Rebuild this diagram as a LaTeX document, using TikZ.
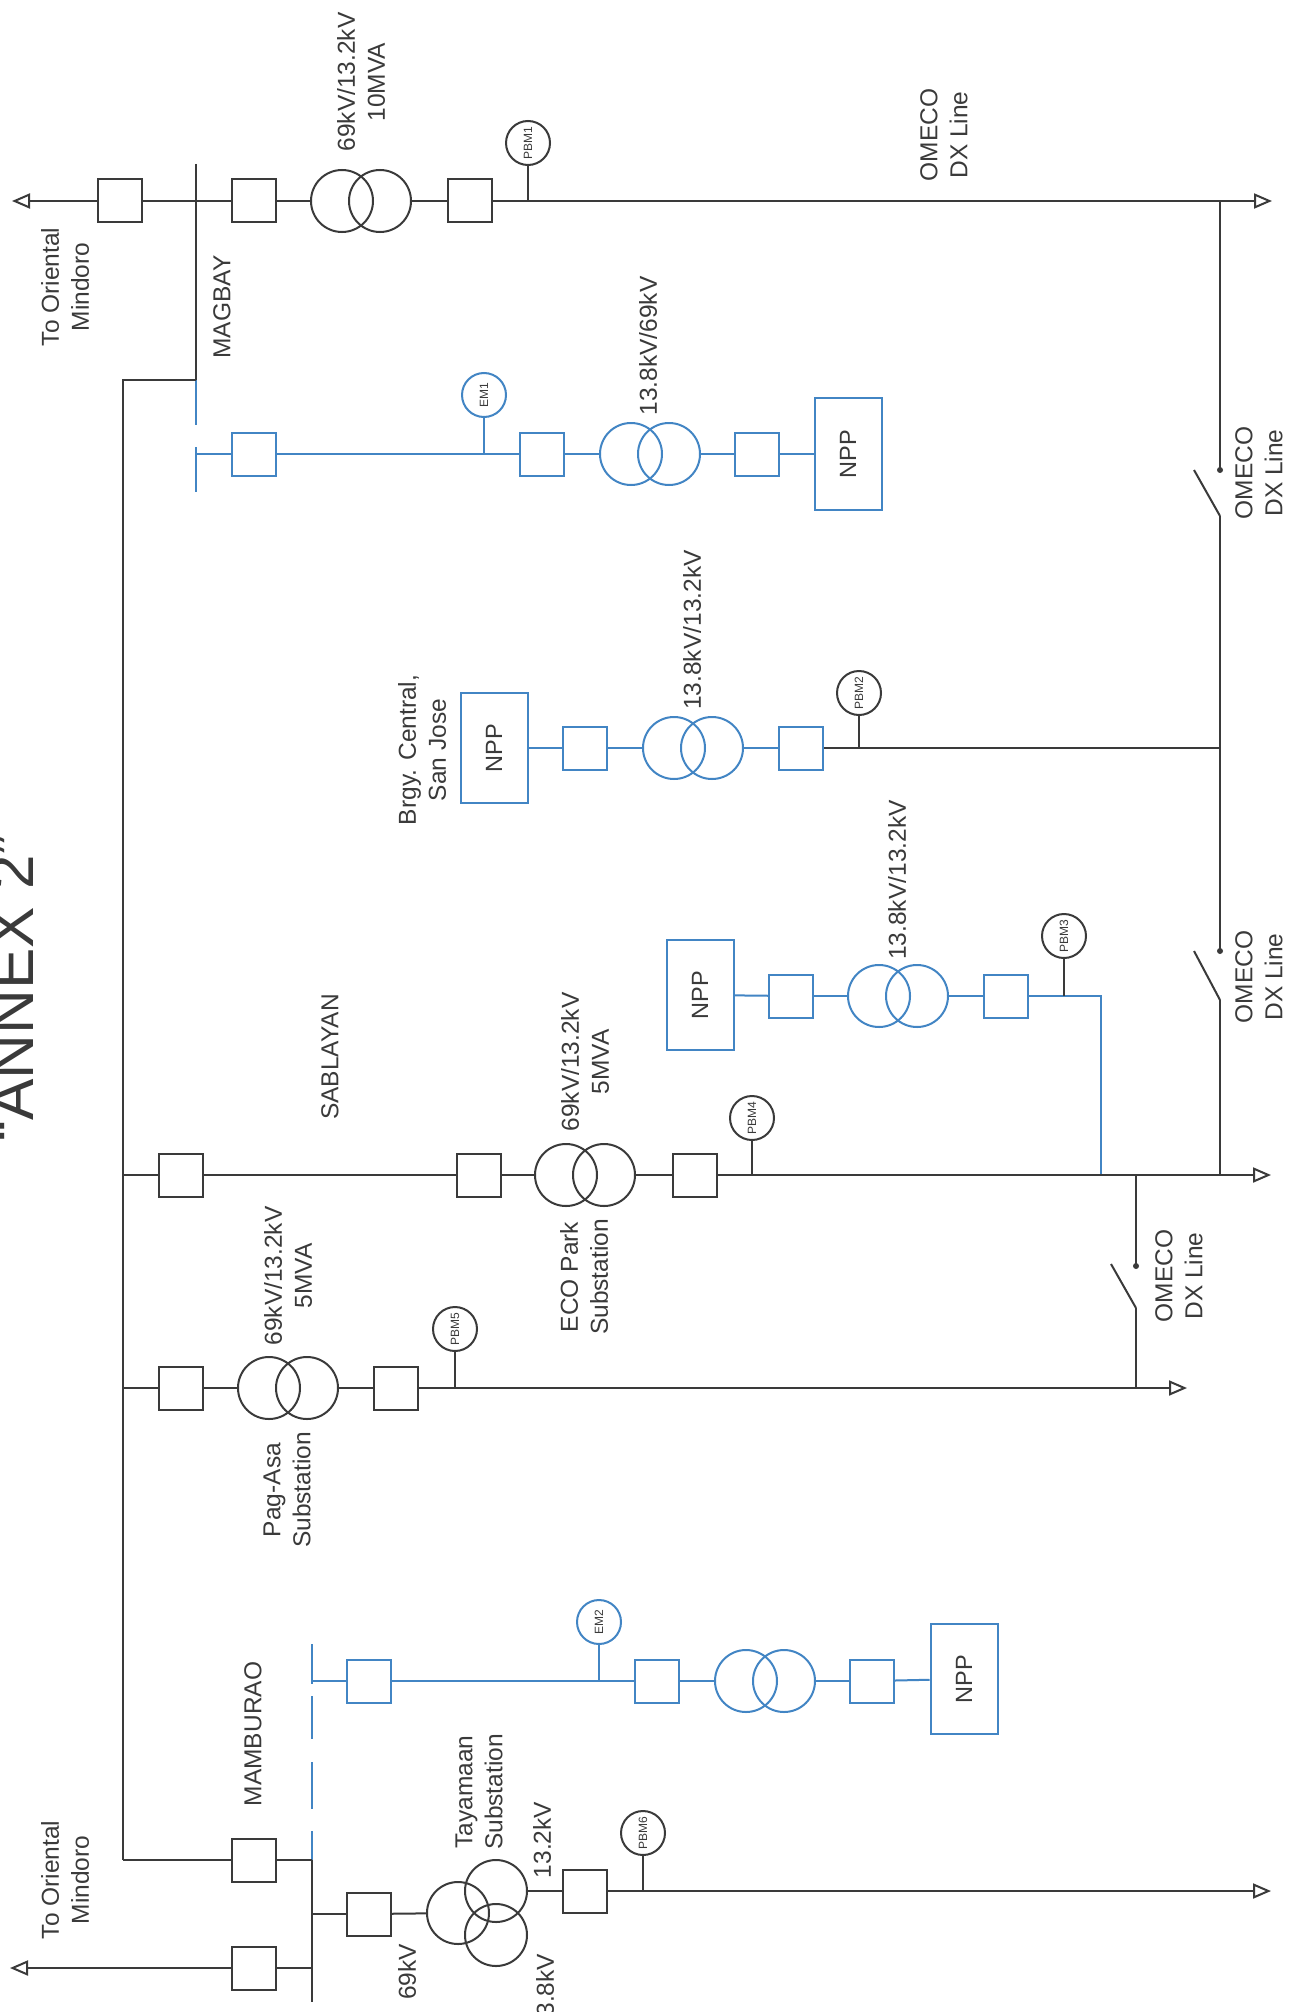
\documentclass[tikz,border=0pt]{standalone}
\usepackage{fontspec}
\setmainfont{Liberation Sans}
\usepackage{graphicx}
\usetikzlibrary{arrows.meta}
\definecolor{dk}{RGB}{58,58,58}
\definecolor{bl}{RGB}{66,133,196}
\begin{document}
\begin{tikzpicture}[x=0.5pt,y=-0.5pt,
 wire/.style={draw=dk,line width=1pt},
 bwire/.style={draw=bl,line width=1pt},
 brk/.style={rectangle,draw=dk,line width=1pt,minimum width=22pt,minimum height=21.5pt,inner sep=0pt},
 bbrk/.style={brk,draw=bl},
 xf/.style={circle,draw=dk,line width=1pt,minimum size=31pt,inner sep=0pt},
 bxf/.style={xf,draw=bl},
 meter/.style={circle,draw=dk,line width=1pt,minimum size=22pt,inner sep=0pt,text=dk,font=\fontsize{6}{7}\selectfont},
 bmeter/.style={meter,draw=bl},
 npp/.style={rectangle,draw=bl,line width=1pt,minimum width=33.5pt,minimum height=55pt,inner sep=0pt,text=dk,font=\fontsize{11.75}{14}\selectfont},
 lbl/.style={rotate=90,align=center,inner sep=0pt,text=dk,font=\fontsize{12.25}{15}\selectfont},
 arr/.style={-{Triangle[open,length=9pt,width=7.5pt]}},
 cdot/.style={circle,fill=dk,inner sep=0pt,minimum size=3pt},
]
\fill[white] (0,0) rectangle (1294,2012);
\useasboundingbox (0,0) rectangle (1294,2012);
\clip (0,0) rectangle (1294,2012);

% ---------- title
\node[lbl,font=\fontsize{31}{36}\selectfont,anchor=base] (title) at (33,988) {“ANNEX 2”};

% ---------- top line (MAGBAY 69kV)
\coordinate (a0) at (12,201);
\node[brk] (b1) at (120,201) {};
\coordinate (m1) at (196,201);
\node[brk] (b2) at (254,201) {};
\node[xf] (t1a) at (342,201) {};
\node[xf] (t1b) at (380,201) {};
\node[brk] (b3) at (470,201) {};
\coordinate (p1) at (528,201);
\node[meter] (pbm1) at (528,143) {\rotatebox{90}{PBM1}};
\coordinate (j1) at (1220,201);
\coordinate (a1) at (1272,201);
\draw[wire,arr] (b1) -- (a0);
\draw[wire] (b1) -- (m1) -- (b2);
\draw[wire] (b2) -- (t1a);
\draw[wire] (t1b) -- (b3);
\draw[wire,arr] (b3) -- (p1) -- (j1) -- (a1);
\draw[wire] (pbm1) -- (p1);

% ---------- MAGBAY bus
\coordinate (mgT) at (196,164);
\coordinate (mgJ) at (196,380);
\coordinate (mgB1) at (196,425);
\coordinate (mgB2) at (196,447);
\coordinate (mgH) at (196,454);
\coordinate (mgB3) at (196,492);
\draw[wire] (mgT) -- (mgJ);
\draw[bwire] (mgJ) -- (mgB1);
\draw[bwire] (mgB2) -- (mgB3);

% ---------- left trunk
\coordinate (L0) at (123,380);
\coordinate (L1) at (123,1175);
\coordinate (L2) at (123,1388);
\coordinate (L3) at (123,1860);
\draw[wire] (mgJ) -- (L0) -- (L1) -- (L2) -- (L3);

% ---------- MAGBAY NPP chain (blue)
\node[bbrk] (bb1) at (254,454) {};
\coordinate (e1) at (484,454);
\node[bmeter] (em1) at (484,395) {\rotatebox{90}{EM1}};
\node[bbrk] (bb2) at (542,454) {};
\node[bxf] (tma) at (631,454) {};
\node[bxf] (tmb) at (669,454) {};
\node[bbrk] (bb3) at (757,454) {};
\node[npp,minimum height=56pt] (npp1) at (848,454) {\rotatebox{90}{NPP}};
\draw[bwire] (mgH) -- (bb1);
\draw[bwire] (bb1) -- (e1) -- (bb2);
\draw[bwire] (em1) -- (e1);
\draw[bwire] (bb2) -- (tma);
\draw[bwire] (tmb) -- (bb3);
\draw[bwire] (bb3) -- (npp1);

% ---------- right trunk with switches
\coordinate (s1a) at (1220,470);
\coordinate (s1b) at (1220,516);
\coordinate (s1t) at (1194,470);
\coordinate (jc) at (1220,748);
\coordinate (s2a) at (1220,951);
\coordinate (s2b) at (1220,1000);
\coordinate (s2t) at (1194,951);
\coordinate (j2) at (1220,1175);
\draw[wire] (j1) -- (s1a);
\draw[wire] (s1b) -- (s1t);
\draw[wire] (s1b) -- (jc) -- (s2a);
\draw[wire] (s2b) -- (s2t);
\draw[wire] (s2b) -- (j2);
\node[cdot] (d1) at (s1a) {};
\node[cdot] (d2) at (s2a) {};

% ---------- Brgy. Central chain
\node[npp] (npp2) at (494,748) {\rotatebox{90}{NPP}};
\node[bbrk] (bc1) at (585,748) {};
\node[bxf] (tca) at (674,748) {};
\node[bxf] (tcb) at (712,748) {};
\node[bbrk] (bc2) at (801,748) {};
\coordinate (pc) at (859,748);
\node[meter] (pbm2) at (859,693) {\rotatebox{90}{PBM2}};
\draw[bwire] (npp2) -- (bc1);
\draw[bwire] (bc1) -- (tca);
\draw[bwire] (tcb) -- (bc2);
\draw[wire] (bc2) -- (pc) -- (jc);
\draw[wire] (pbm2) -- (pc);

% ---------- PBM3 chain
\node[npp] (npp3) at (700,995) {\rotatebox{90}{NPP}};
\node[bbrk] (bd1) at (791,996) {};
\node[bxf] (tda) at (879,996) {};
\node[bxf] (tdb) at (917,996) {};
\node[bbrk] (bd2) at (1006,996) {};
\coordinate (pd) at (1064,996);
\coordinate (dc) at (1101,996);
\coordinate (dj) at (1101,1175);
\node[meter] (pbm3) at (1064,936) {\rotatebox{90}{PBM3}};
\draw[bwire] (npp3) -- (bd1);
\draw[bwire] (bd1) -- (tda);
\draw[bwire] (tdb) -- (bd2);
\draw[bwire] (bd2) -- (pd) -- (dc) -- (dj);
\draw[wire] (pbm3) -- (pd);

% ---------- SABLAYAN / ECO Park line
\node[brk] (bm1) at (181,1175) {};
\node[brk] (bm2) at (479,1175) {};
\node[xf] (tea) at (566,1175) {};
\node[xf] (teb) at (604,1175) {};
\node[brk] (bm3) at (695,1175) {};
\coordinate (pe) at (752,1175);
\node[meter] (pbm4) at (752,1118) {\rotatebox{90}{PBM4}};
\coordinate (j3) at (1136,1175);
\coordinate (a2) at (1271,1175);
\draw[wire] (L1) -- (bm1);
\draw[wire] (bm1) -- (bm2);
\draw[wire] (bm2) -- (tea);
\draw[wire] (teb) -- (bm3);
\draw[wire,arr] (bm3) -- (pe) -- (dj) -- (j3) -- (j2) -- (a2);
\draw[wire] (pbm4) -- (pe);

% ---------- switch 3
\coordinate (s3a) at (1136,1266);
\coordinate (s3b) at (1136,1308);
\coordinate (s3t) at (1111,1264);
\coordinate (q3) at (1136,1388);
\draw[wire] (j3) -- (s3a);
\draw[wire] (s3b) -- (s3t);
\draw[wire] (s3b) -- (q3);
\node[cdot] (d3) at (s3a) {};

% ---------- Pag-Asa line
\node[brk] (bp1) at (181,1388) {};
\node[xf] (tpa) at (269,1388) {};
\node[xf] (tpb) at (307,1388) {};
\node[brk] (bp2) at (396,1388) {};
\coordinate (pp) at (455,1388);
\node[meter] (pbm5) at (455,1329) {\rotatebox{90}{PBM5}};
\coordinate (a3) at (1187,1388);
\draw[wire] (L2) -- (bp1);
\draw[wire] (bp1) -- (tpa);
\draw[wire] (tpb) -- (bp2);
\draw[wire,arr] (bp2) -- (pp) -- (q3) -- (a3);
\draw[wire] (pbm5) -- (pp);

% ---------- MAMBURAO bus
\coordinate (mbd1) at (312,1644);
\coordinate (mbE) at (312,1681);
\coordinate (mbd2) at (312,1684);
\coordinate (mbd3) at (312,1696);
\coordinate (mbd4) at (312,1739);
\coordinate (mbd5) at (312,1762);
\coordinate (mbd6) at (312,1809);
\coordinate (mbd7) at (312,1831);
\coordinate (mA) at (312,1860);
\coordinate (mB) at (312,1914);
\coordinate (mC) at (312,1968);
\coordinate (mbEnd) at (312,2002);
\draw[bwire] (mbd1) -- (mbd2);
\draw[bwire] (mbd3) -- (mbd4);
\draw[bwire] (mbd5) -- (mbd6);
\draw[bwire] (mbd7) -- (mA);
\draw[wire] (mA) -- (mB) -- (mC) -- (mbEnd);

\node[brk] (bmA) at (254,1860) {};
\draw[wire] (L3) -- (bmA);
\draw[wire] (bmA) -- (mA);

\node[brk] (bmC) at (254,1968) {};
\coordinate (a4) at (10,1968);
\draw[wire] (mC) -- (bmC);
\draw[wire,arr] (bmC) -- (a4);

% Tayamaan
\node[brk] (bmB) at (369,1914) {};
\node[xf] (tta) at (458,1913) {};
\node[xf] (ttb) at (496,1891) {};
\node[xf] (ttc) at (496,1935) {};
\node[brk] (bT) at (585,1891) {};
\coordinate (pt) at (643,1891);
\node[meter] (pbm6) at (643,1833) {\rotatebox{90}{PBM6}};
\coordinate (a5) at (1271,1891);
\draw[wire] (mB) -- (bmB);
\draw[wire] (bmB) -- (tta);
\draw[wire] (ttb.east) -- (bT);
\draw[wire,arr] (bT) -- (pt) -- (a5);
\draw[wire] (pbm6) -- (pt);

% MAMBURAO NPP chain (blue)
\node[bbrk] (be1) at (369,1681) {};
\coordinate (e2) at (599,1681);
\node[bmeter] (em2) at (599,1622) {\rotatebox{90}{EM2}};
\node[bbrk] (be2) at (657,1681) {};
\node[bxf] (tfa) at (746,1681) {};
\node[bxf] (tfb) at (784,1681) {};
\node[bbrk] (be3) at (872,1681) {};
\node[npp] (npp4) at (964,1679) {\rotatebox{90}{NPP}};
\draw[bwire] (mbE) -- (be1);
\draw[bwire] (be1) -- (e2) -- (be2);
\draw[bwire] (em2) -- (e2);
\draw[bwire] (be2) -- (tfa);
\draw[bwire] (tfb) -- (be3);
\draw[bwire] (be3) -- (npp4);

% ---------- labels
\node[lbl] (lto1) at (65,287) {To Oriental\\Mindoro};
\node[lbl] (lmag) at (222,307) {MAGBAY};
\node[lbl] (lt1) at (361,82) {69kV/13.2kV\\10MVA};
\node[lbl] (lom1) at (944,135) {OMECO\\DX Line};
\node[lbl] (ltm) at (648,346) {13.8kV/69kV};
\node[lbl] (lom2) at (1259,473) {OMECO\\DX Line};
\node[lbl] (lbr) at (422,750) {Brgy. Central,\\San Jose};
\node[lbl] (ltc) at (692,630) {13.8kV/13.2kV};
\node[lbl] (ltd) at (897,880) {13.8kV/13.2kV};
\node[lbl] (lom3) at (1259,977) {OMECO\\DX Line};
\node[lbl] (lsab) at (330,1057) {SABLAYAN};
\node[lbl] (lte) at (585,1062) {69kV/13.2kV\\5MVA};
\node[lbl] (leco) at (584,1277) {ECO Park\\Substation};
\node[lbl] (ltp) at (288,1276) {69kV/13.2kV\\5MVA};
\node[lbl] (lom4) at (1179,1276) {OMECO\\DX Line};
\node[lbl] (lpag) at (287,1490) {Pag-Asa\\Substation};
\node[lbl] (lmam) at (253,1734) {MAMBURAO};
\node[lbl] (lto2) at (65,1880) {To Oriental\\Mindoro};
\node[lbl] (ltay) at (479,1792) {Tayamaan\\Substation};
\node[lbl] (l132) at (542,1840) {13.2kV};
\node[lbl] (l138) at (545,1992) {13.8kV};
\node[lbl] (l69) at (407,1972) {69kV};
\end{tikzpicture}
\end{document}
